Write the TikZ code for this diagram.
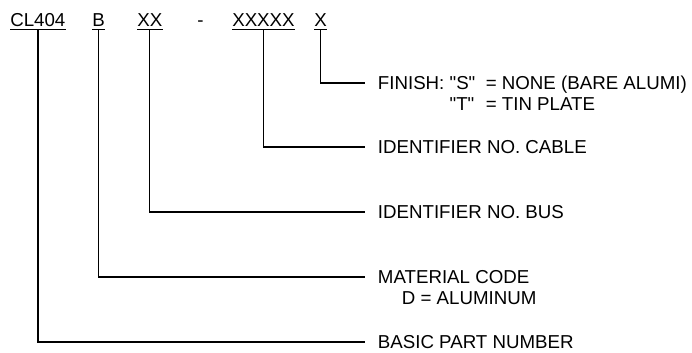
\documentclass[tikz,border=0pt]{standalone}
\usepackage{fontspec}
\setmainfont{Liberation Sans}[Ligatures=TeXOff]
\usepackage{tikz}
\usetikzlibrary{positioning}

\tikzset{
  code/.style={inner sep=0pt, text height=9.5pt, text depth=0pt, anchor=south west, font=\fontsize{13.3}{15}\selectfont},
  desc/.style={inner ysep=0pt, inner xsep=9pt, text height=9.5pt, text depth=0pt, anchor=west, font=\fontsize{13.3}{15}\selectfont},
  sub/.style={inner sep=0pt, text height=9.5pt, text depth=0pt, anchor=west, font=\fontsize{13.3}{15}\selectfont},
  lead/.style={line width=1pt}
}

\begin{document}
\begin{tikzpicture}[x=0.025cm, y=-0.025cm]
    \useasboundingbox (0,0) rectangle (692,353);
    % part number fields
    \node[code] (cl) at (10,27) {CL404};
    \node[code] (mat) at (92,27) {B};
    \node[code] (bus) at (137,27) {XX};
    \node[code] (dash) at (197,27) {-};
    \node[code] (cab) at (232,27) {XXXXX};
    \node[code] (fin) at (314,27) {X};
    \foreach \n in {cl,mat,bus,cab,fin}
    \draw[lead] ([yshift=-1.8pt]\n.south west) -- ([yshift=-1.8pt]\n.south east);
    % descriptions
    \node[desc] (finid) at (365,83) {FINISH: "S"\ \ = NONE (BARE ALUMI)};
    \node[sub] (tin) at ([xshift=9pt,yshift=-14.5pt]finid.west) {\hphantom{FINISH: }\rlap{"T"}\hphantom{"S"}\ \ = TIN PLATE};
    \node[desc] (cabid) at (365,147) {IDENTIFIER NO. CABLE};
    \node[desc] (busid) at (365,212) {IDENTIFIER NO. BUS};
    \node[desc] (matid) at (365,277) {MATERIAL CODE};
    \node[sub] (alu) at ([xshift=26pt,yshift=-15pt]matid.west) {D = ALUMINUM};
    \node[desc] (basic) at (365,342) {BASIC PART NUMBER};
    % leaders
    \draw[lead] ([yshift=-1.8pt]fin.south) |- (finid.west);
    \draw[lead] ([yshift=-1.8pt]cab.south) |- (cabid.west);
    \draw[lead] ([yshift=-1.8pt]bus.south) |- (busid.west);
    \draw[lead] ([yshift=-1.8pt]mat.south) |- (matid.west);
    \draw[lead] ([yshift=-1.8pt]cl.south) |- (basic.west);
\end{tikzpicture}
\end{document}
